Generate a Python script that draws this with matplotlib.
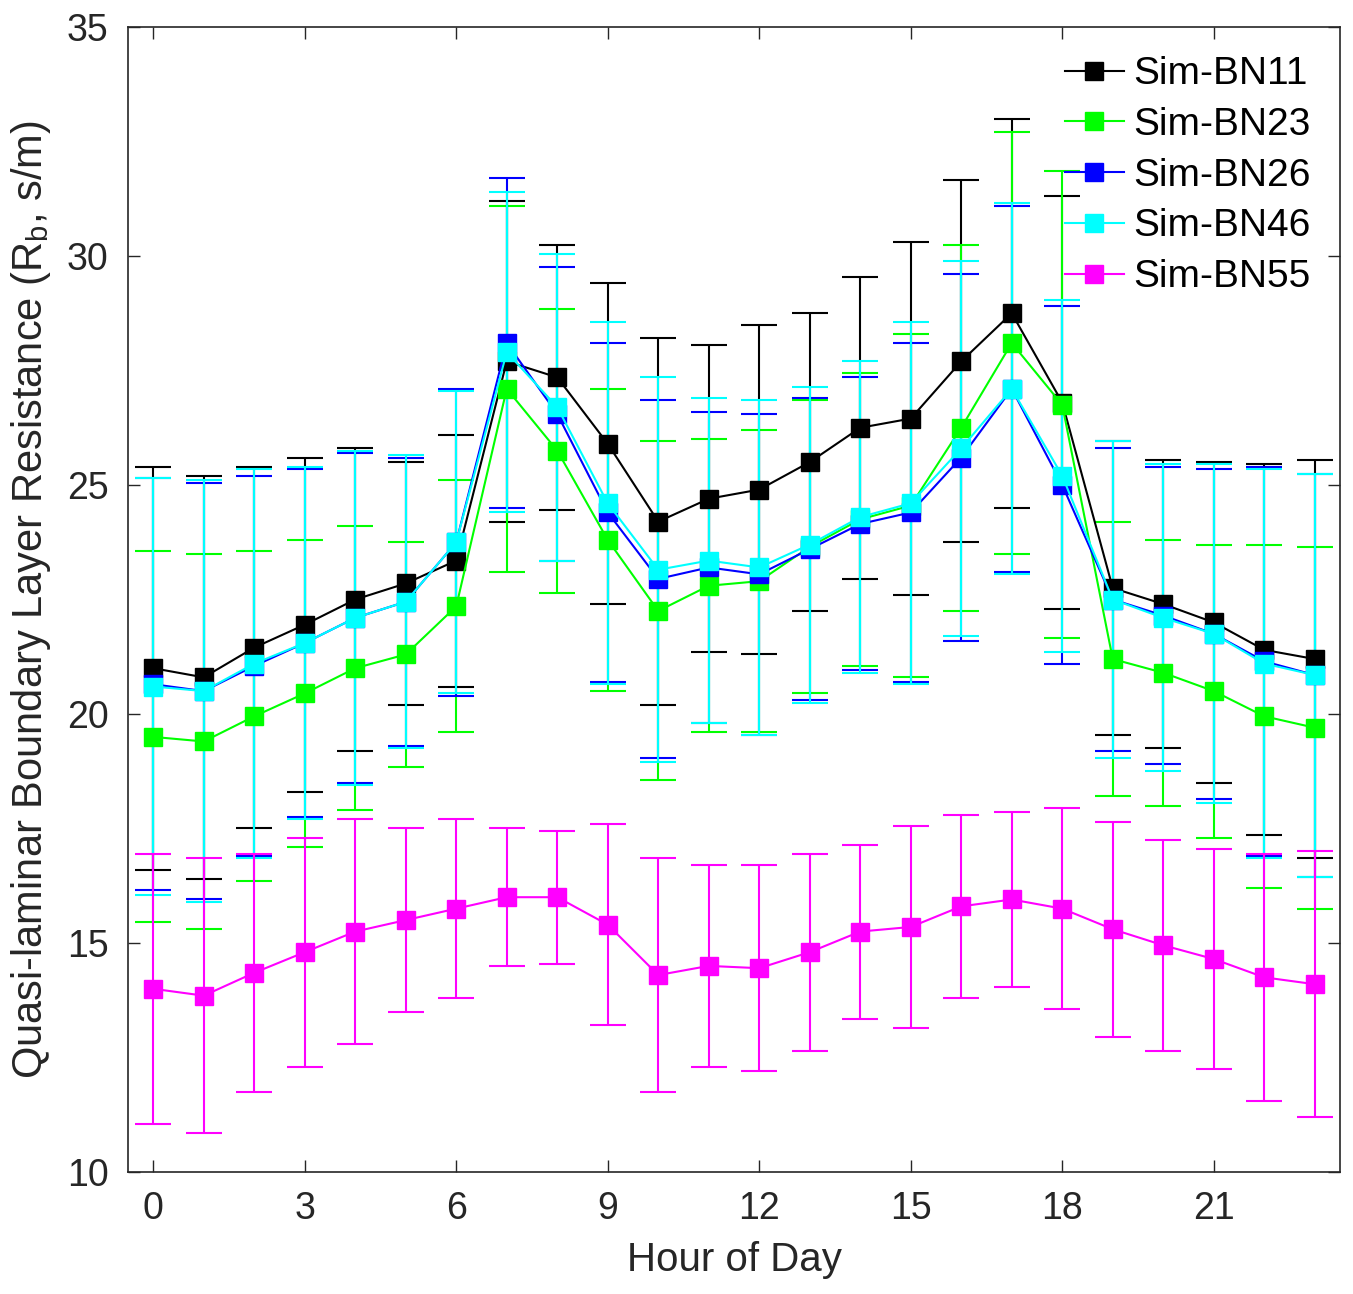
import matplotlib
matplotlib.use("Agg")
import matplotlib.pyplot as plt
from matplotlib.lines import Line2D
import numpy as np

plt.rcParams['font.family'] = ['Liberation Sans', 'DejaVu Sans']

hours = np.arange(24)

labels = ['Sim-BN11', 'Sim-BN23', 'Sim-BN26', 'Sim-BN46', 'Sim-BN55']
colors = ['#000000', '#00FF00', '#0000FF', '#00FFFF', '#FF00FF']

bn11_mean = [21.0, 20.8, 21.45, 21.95, 22.5, 22.85, 23.35, 27.7, 27.35, 25.9, 24.2, 24.7,
             24.9, 25.5, 26.25, 26.45, 27.7, 28.75, 26.8, 22.75, 22.4, 22.0, 21.4, 21.2]
bn11_std = [4.4, 4.4, 3.95, 3.65, 3.3, 2.65, 2.75, 3.5, 2.9, 3.5, 4.0, 3.35,
            3.6, 3.25, 3.3, 3.85, 3.95, 4.25, 4.5, 3.2, 3.15, 3.5, 4.05, 4.35]

bn23_mean = [19.5, 19.4, 19.95, 20.45, 21.0, 21.3, 22.35, 27.1, 25.75, 23.8, 22.25, 22.8,
             22.9, 23.65, 24.25, 24.55, 26.25, 28.1, 26.75, 21.2, 20.9, 20.5, 19.95, 19.7]
bn23_std = [4.05, 4.1, 3.6, 3.35, 3.1, 2.45, 2.75, 4.0, 3.1, 3.3, 3.7, 3.2,
            3.3, 3.2, 3.2, 3.75, 4.0, 4.6, 5.1, 3.0, 2.9, 3.2, 3.75, 3.95]

bn26_mean = [20.65, 20.5, 21.05, 21.55, 22.1, 22.45, 23.75, 28.1, 26.55, 24.4, 22.95, 23.2,
             23.05, 23.6, 24.15, 24.4, 25.6, 27.1, 25.0, 22.5, 22.15, 21.75, 21.15, 20.85]
bn26_std = [4.5, 4.55, 4.15, 3.8, 3.6, 3.15, 3.35, 3.6, 3.2, 3.7, 3.9, 3.4,
            3.5, 3.3, 3.2, 3.7, 4.0, 4.0, 3.9, 3.3, 3.25, 3.6, 4.25, 4.4]

bn46_mean = [20.6, 20.5, 21.1, 21.55, 22.1, 22.45, 23.75, 27.9, 26.7, 24.6, 23.15, 23.35,
             23.2, 23.7, 24.3, 24.6, 25.8, 27.1, 25.2, 22.5, 22.1, 21.75, 21.1, 20.85]
bn46_std = [4.55, 4.6, 4.25, 3.85, 3.65, 3.2, 3.3, 3.5, 3.35, 3.95, 4.2, 3.55,
            3.65, 3.45, 3.4, 3.95, 4.1, 4.05, 3.85, 3.45, 3.35, 3.7, 4.25, 4.4]

bn55_mean = [14.0, 13.85, 14.35, 14.8, 15.25, 15.5, 15.75, 16.0, 16.0, 15.4, 14.3, 14.5,
             14.45, 14.8, 15.25, 15.35, 15.8, 15.95, 15.75, 15.3, 14.95, 14.65, 14.25, 14.1]
bn55_std = [2.95, 3.0, 2.6, 2.5, 2.45, 2.0, 1.95, 1.5, 1.45, 2.2, 2.55, 2.2,
            2.25, 2.15, 1.9, 2.2, 2.0, 1.9, 2.2, 2.35, 2.3, 2.4, 2.7, 2.9]

means = [bn11_mean, bn23_mean, bn26_mean, bn46_mean, bn55_mean]
stds = [bn11_std, bn23_std, bn26_std, bn46_std, bn55_std]

fig = plt.figure(figsize=(13.53, 12.94), dpi=100)
ax = fig.add_axes([128 / 1353, 122 / 1294, 1212 / 1353, 1145 / 1294])

handles = []
for m, s, c, lab in zip(means, stds, colors, labels):
    ax.errorbar(hours, m, yerr=s, color=c, ecolor=c, marker='s', markersize=13,
                markeredgecolor=c, markerfacecolor=c, linewidth=1.5, elinewidth=1.5,
                capsize=13, capthick=1.5)
    handles.append(Line2D([], [], color=c, marker='s', markersize=13, linewidth=1.5,
                          markeredgecolor=c, markerfacecolor=c, label=lab))

ax.set_xlim(-0.5, 23.5)
ax.set_ylim(10, 35)
ax.set_xticks(range(0, 24, 3))
ax.set_yticks(range(10, 36, 5))
ax.tick_params(direction='in', top=True, right=True, length=8.5, width=1,
               labelsize=27, pad=14, colors='#262626')
for sp in ax.spines.values():
    sp.set_color('#262626')
    sp.set_linewidth(1.2)

ax.set_xlabel('Hour of Day', fontsize=29, color='#262626', labelpad=10)
ax.set_ylabel('Quasi-laminar Boundary Layer Resistance (R$_\\mathregular{b}$, s/m)',
              fontsize=30, color='#262626', labelpad=10)

ax.legend(handles=handles, loc='upper right', frameon=False, fontsize=28,
          handlelength=1.5, labelspacing=0.38, handletextpad=0.25,
          borderaxespad=0.35)

fig.savefig('out.png', dpi=100)
